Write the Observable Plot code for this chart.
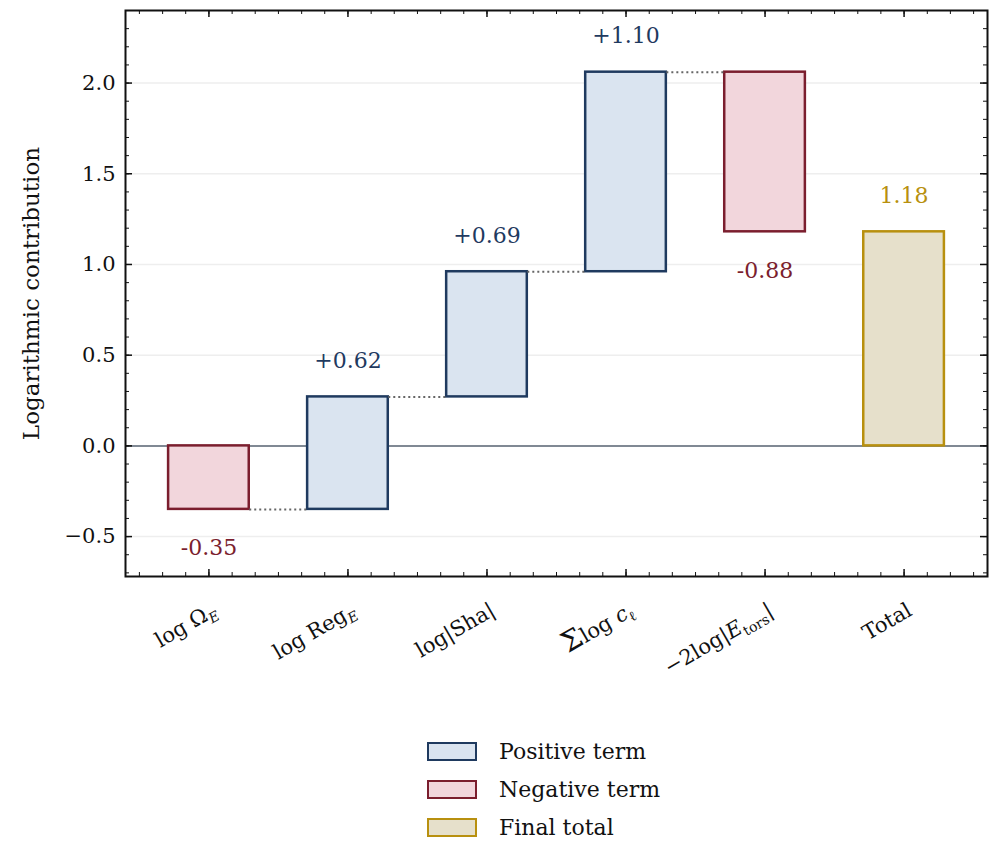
<!DOCTYPE html>
<html><head><meta charset="utf-8">
<script src="https://cdn.jsdelivr.net/npm/d3@7"></script>
<script src="https://cdn.jsdelivr.net/npm/@observablehq/plot@0.6"></script>
<style>
body{margin:0;background:#fff;font-family:"DejaVu Serif",serif;}
#legend{margin-left:427px;margin-top:32px;font-size:22px;color:#111;}
.it{display:flex;align-items:center;height:38px;}
.sw{width:50px;height:19px;box-sizing:border-box;border:2px solid;margin-right:22px;}
</style></head><body>
<div id="chart"></div>
<div id="legend">
<div class="it"><div class="sw" style="background:#dae4f0;border-color:#1f3a5f"></div>Positive term</div>
<div class="it"><div class="sw" style="background:#f2d6dc;border-color:#7b1e2e"></div>Negative term</div>
<div class="it"><div class="sw" style="background:#e6e0cb;border-color:#b8900f"></div>Final total</div>
</div>
<script>
const categories = ["log ΩE","log RegE","log|Sha|","Σ log cℓ","−2log|Etors|","Total"];
const deltas = [-0.35, 0.62, 0.69, 1.10, -0.88, null];
const total = 1.18;
const valueLabels = ["-0.35","+0.62","+0.69","+1.10","-0.88","1.18"];
const yTicks = [-0.5,0,0.5,1.0,1.5,2.0];

const C = {pos:["#dae4f0","#1f3a5f"], neg:["#f2d6dc","#7b1e2e"], tot:["#e6e0cb","#b8900f"]};
let cum = 0;
const bars = categories.map((c,i)=>{
  if (deltas[i]===null) return {i, y1:0, y2:total, kind:"tot", label:valueLabels[i]};
  const s = cum; cum += deltas[i];
  return {i, y1:s, y2:cum, kind: deltas[i]>=0?"pos":"neg", label:valueLabels[i]};
});
const hw = 0.29;
const conns = bars.slice(0,4).map(b=>({x1:b.i+hw, x2:b.i+1-hw, y:b.y2}));
const X0=-0.6, X1=5.6, Y0=-0.72, Y1=2.4;
const px = 6.2/862, py = 3.12/566;
const minorY = d3.range(-0.7,2.41,0.1).map(v=>+v.toFixed(2));
const minorX = d3.range(-0.5,5.6,1/6).map(v=>+v.toFixed(3));
const majorX = d3.range(0,6);
const ff = "DejaVu Serif";
const up = bars.filter(d=>d.kind!=="neg"), down = bars.filter(d=>d.kind==="neg");
const chart = Plot.plot({
  width:1004, height:700, marginLeft:125, marginRight:17, marginTop:10, marginBottom:124,
  style:{fontFamily:ff, fontSize:"21px", color:"#111"},
  x:{domain:[X0,X1], axis:null},
  y:{domain:[Y0,Y1], axis:null},
  marks:[
    Plot.ruleY(yTicks,{stroke:"#eee", strokeWidth:1.5}),
    Plot.ruleY([0],{stroke:"#5a6675", strokeWidth:1.5}),
    Plot.rectY(bars,{x1:d=>d.i-hw, x2:d=>d.i+hw, y1:"y1", y2:"y2", fill:d=>C[d.kind][0], stroke:d=>C[d.kind][1], strokeWidth:2.5}),
    Plot.link(conns,{x1:"x1",x2:"x2",y1:"y",y2:"y",stroke:"#666",strokeWidth:2,strokeDasharray:"2,3"}),
    Plot.text(up,{x:"i", y:"y2", dy:-36, text:"label", fill:d=>C[d.kind][1], fontSize:22}),
    Plot.text(down,{x:"i", y:d=>Math.min(d.y1,d.y2), dy:39, text:"label", fill:d=>C[d.kind][1], fontSize:22}),
    Plot.frame({stroke:"#111", strokeWidth:2}),
    Plot.ruleY(yTicks,{x1:X0,x2:X0+7*px,stroke:"#111",strokeWidth:1.5}),
    Plot.ruleY(yTicks,{x1:X1-7*px,x2:X1,stroke:"#111",strokeWidth:1.5}),
    Plot.ruleY(minorY,{x1:X0,x2:X0+4*px,stroke:"#111",strokeWidth:1}),
    Plot.ruleY(minorY,{x1:X1-4*px,x2:X1,stroke:"#111",strokeWidth:1}),
    Plot.ruleX(majorX,{y1:Y0,y2:Y0+7*py,stroke:"#111",strokeWidth:1.5}),
    Plot.ruleX(majorX,{y1:Y1-7*py,y2:Y1,stroke:"#111",strokeWidth:1.5}),
    Plot.ruleX(minorX,{y1:Y0,y2:Y0+4*py,stroke:"#111",strokeWidth:1}),
    Plot.ruleX(minorX,{y1:Y1-4*py,y2:Y1,stroke:"#111",strokeWidth:1}),
    Plot.text(yTicks,{x:X0, y:d=>d, text:d=>d3.format(".1f")(d), textAnchor:"end", dx:-10, fontSize:21}),
    Plot.text(categories,{x:(d,i)=>i, y:Y0, text:d=>d, textAnchor:"end", rotate:-30, dy:32, dx:6, fontSize:21}),
    Plot.text(["Logarithmic contribution"],{x:X0, y:(Y0+Y1)/2, rotate:-90, dx:-94, fontSize:23})
  ]
});
document.getElementById("chart").append(chart);
const rich = {
 "log ΩE":'log Ω<tspan font-style="italic" font-size="14" dy="5">E</tspan>',
 "log RegE":'log Reg<tspan font-style="italic" font-size="14" dy="5">E</tspan>',
 "Σ log cℓ":'<tspan font-size="28">Σ</tspan>log <tspan font-style="italic">c</tspan><tspan font-size="14" dy="5">ℓ</tspan>',
 "−2log|Etors|":'−2log|<tspan font-style="italic">E</tspan><tspan font-size="14" dy="5">tors</tspan><tspan dy="-5">|</tspan>'
};
d3.select(chart).selectAll("text").each(function(){
  const t=this.textContent; if(rich[t]) this.innerHTML=rich[t];
});
</script></body></html>
